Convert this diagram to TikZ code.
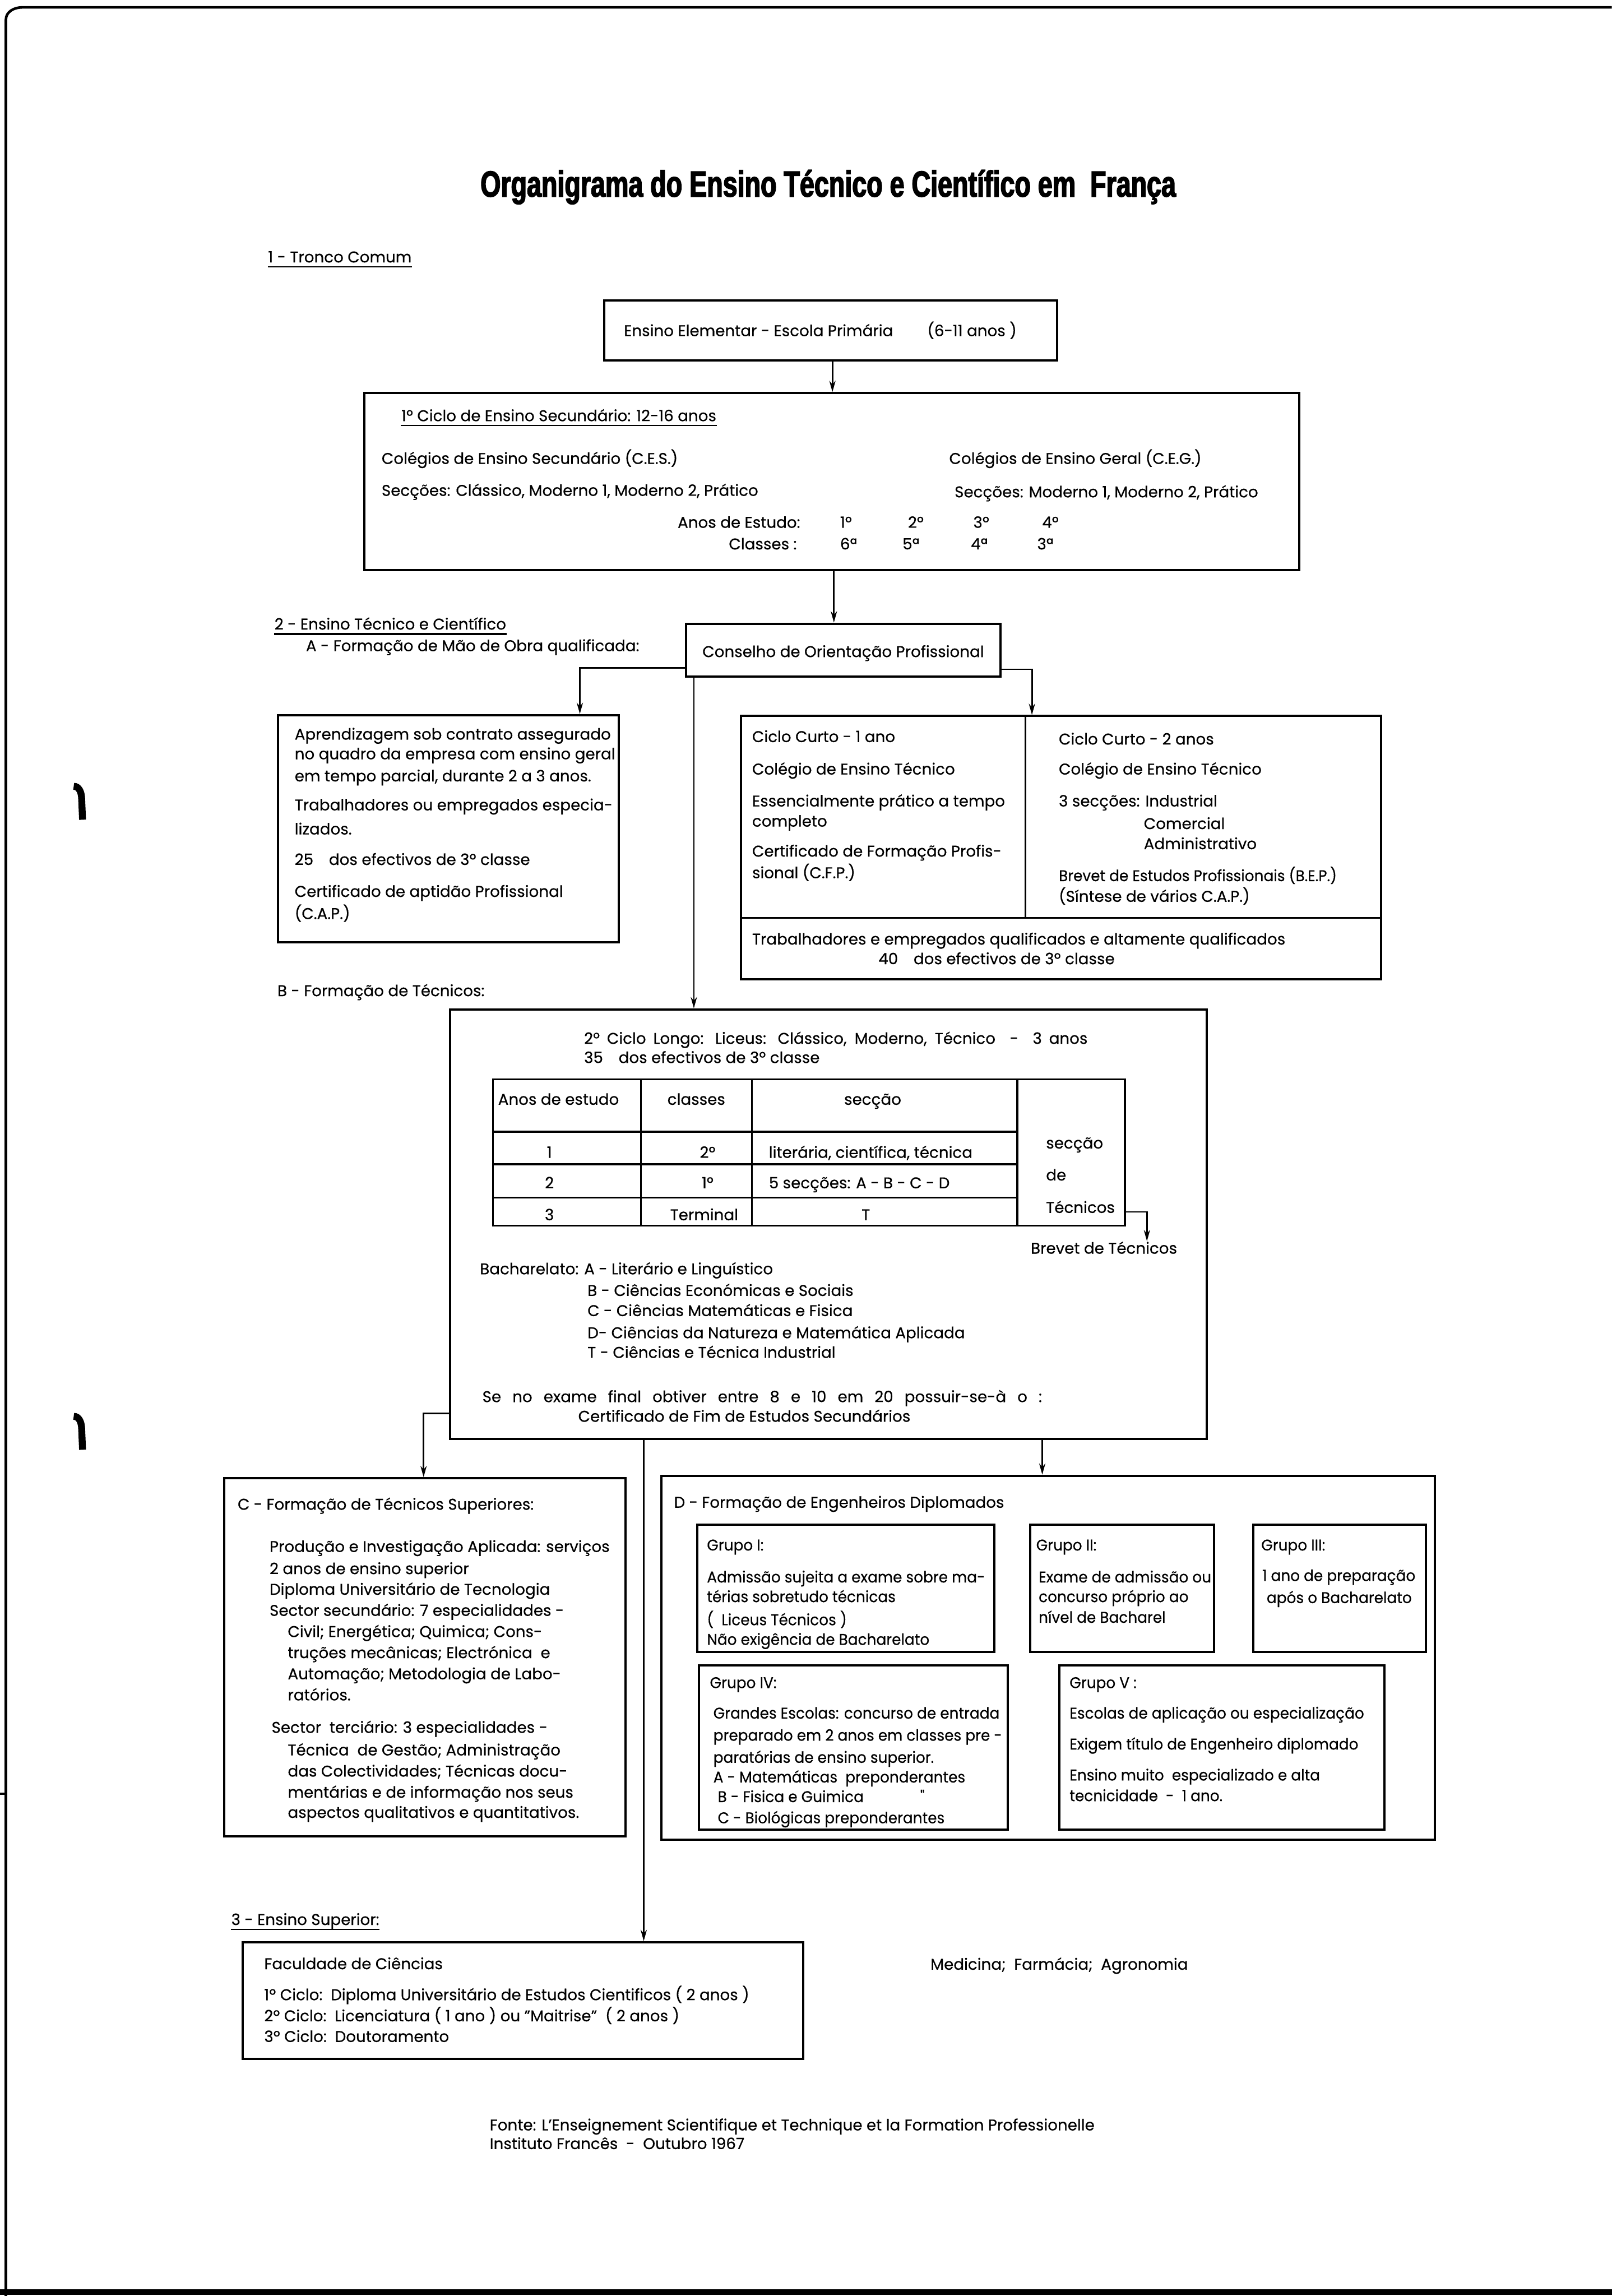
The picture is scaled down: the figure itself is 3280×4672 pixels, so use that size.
\documentclass[tikz,border=0pt]{standalone}
\usepackage{fontspec}
\setmainfont[FakeBold=0.5]{Poppins}
\newfontfamily\narrowfont[FakeStretch=0.95,FakeBold=0.5]{Poppins}
\newfontfamily\titlefont[FakeStretch=0.72,FakeBold=2.5]{Liberation Sans}
\usetikzlibrary{arrows.meta,fit}
\newcommand\mytext[5][]{\node[tx,#1] (#2) at (#3,#4) {#5};}
\begin{document}
\begin{tikzpicture}[x=0.01cm,y=-0.01cm,
  tx/.style={anchor=base west,inner sep=0pt,font=\fontsize{9}{11}\selectfont},
  txc/.style={tx,anchor=base},
  txe/.style={tx,anchor=base east},
  nar/.style={font=\narrowfont\fontsize{9}{11}\selectfont},
  box/.style={draw,line width=1.3pt,inner sep=0pt},
  tline/.style={line width=1.1pt},
  con/.style={line width=0.9pt},
  arr/.style={con,-{Stealth[length=6.5pt,width=3.6pt]}},
  uline/.style={line width=0.6pt}]
\useasboundingbox (0,0) rectangle (3280,4672);
% page edges (scan)
\draw[line width=1.5pt] (12,4672) -- (12,40) to[out=90,in=180] (45,15) -- (3280,15);
\draw[line width=3pt] (0,4664) -- (3280,4664);
\draw[line width=1.5pt] (0,3650) -- (14,3650);
\draw[line width=4pt] (168,1668) -- (166,1622) to[out=95,in=0] (150,1600);
\draw[line width=4pt] (168,2950) -- (166,2904) to[out=95,in=0] (150,2882);
% title
\node[anchor=base west,inner sep=0pt,font={\titlefont\bfseries\fontsize{21}{24}\selectfont}] (title) at (977,400) {Organigrama do Ensino Técnico e Científico em\ \ França};
% section 1
\mytext{s1}{545}{534}{1 - Tronco Comum}
\draw[uline] ([yshift=-2.5pt]s1.base west) -- ([yshift=-2.5pt]s1.base east);
\node[box,fit={(1230,611) (2151,733)}] (elem) {};
\mytext{telem}{1269}{684}{Ensino Elementar - Escola Primária\hspace{2.2em}(6-11 anos )}
\node[box,fit={(741,800) (2644,1160)}] (c1) {};
\coordinate (a1) at (1694,0);
\draw[arr] (a1 |- elem.south) -- (a1 |- c1.north);
\mytext{tc1a}{816}{857}{1º Ciclo de Ensino Secundário: 12-16 anos}
\draw[uline] ([yshift=-2.5pt]tc1a.base west) -- ([yshift=-2.5pt]tc1a.base east);
\mytext{tc1b}{776}{944}{Colégios de Ensino Secundário (C.E.S.)}
\mytext{tc1c}{1931}{944}{Colégios de Ensino Geral (C.E.G.)}
\mytext{tc1d}{776}{1009}{Secções: Clássico, Moderno 1, Moderno 2, Prático}
\mytext{tc1e}{1942}{1012}{Secções: Moderno 1, Moderno 2, Prático}
\node[txe] (tc1f) at (1629,1074) {Anos de Estudo:};
\mytext{y1}{1709}{1074}{1º}
\mytext{y2}{1847}{1074}{2º}
\mytext{y3}{1980}{1074}{3º}
\mytext{y4}{2120}{1074}{4º}
\node[txe] (tc1g) at (1622,1118) {Classes :};
\mytext{k1}{1709}{1118}{6ª}
\mytext{k2}{1836}{1118}{5ª}
\mytext{k3}{1975}{1118}{4ª}
\mytext{k4}{2110}{1118}{3ª}
% section 2
\mytext{s2}{558}{1281}{2 - Ensino Técnico e Científico}
\draw[line width=1.2pt] ([yshift=-2.5pt]s2.base west) -- ([yshift=-2.5pt]s2.base east);
\mytext{s2a}{622}{1325}{A - Formação de Mão de Obra qualificada:}
\node[box,fit={(1396,1269) (2036,1377)}] (cop) {};
\node[txc] (tcop) at (1716,1337) {Conselho de Orientação Profissional};
\coordinate (a2) at (1697,0);
\draw[arr] (a2 |- c1.south) -- (a2 |- cop.north);
% A boxes
\node[box,fit={(566,1455) (1259,1917)}] (apr) {};
\node[box,fit={(1508,1457) (2811,1993)}] (cc) {};
\draw[tline] (2087,1457) -- (2087,1868);
\draw[tline] (1508,1868) -- (2811,1868);
\coordinate (l1) at (1180,1359);
\draw[arr] (cop.west |- l1) -- (l1) -- (l1 |- apr.north);
\coordinate (r1) at (2100,1362);
\draw[arr] (cop.east |- r1) -- (r1) -- (r1 |- cc.north);
\mytext{ap1}{599}{1505}{Aprendizagem sob contrato assegurado}
\mytext{ap2}{599}{1545}{no quadro da empresa com ensino geral}
\mytext{ap3}{599}{1590}{em tempo parcial, durante 2 a 3 anos.}
\mytext{ap4}{599}{1649}{Trabalhadores ou empregados especia-}
\mytext{ap5}{599}{1698}{lizados.}
\mytext{ap6}{599}{1760}{25\hspace{1em}dos efectivos de 3º classe}
\mytext{ap7}{599}{1825}{Certificado de aptidão Profissional}
\mytext{ap8}{599}{1870}{(C.A.P.)}
\mytext{cl1}{1530}{1510}{Ciclo Curto - 1 ano}
\mytext{cl2}{1530}{1576}{Colégio de Ensino Técnico}
\mytext{cl3}{1530}{1641}{Essencialmente prático a tempo}
\mytext{cl4}{1530}{1682}{completo}
\mytext{cl5}{1530}{1743}{Certificado de Formação Profis-}
\mytext{cl6}{1530}{1787}{sional (C.F.P.)}
\mytext{cr1}{2154}{1515}{Ciclo Curto - 2 anos}
\mytext{cr2}{2154}{1576}{Colégio de Ensino Técnico}
\mytext{cr3}{2154}{1641}{3 secções: Industrial}
\mytext{cr4}{2327}{1687}{Comercial}
\mytext{cr5}{2327}{1728}{Administrativo}
\mytext[nar]{cr6}{2154}{1793}{Brevet de Estudos Profissionais (B.E.P.)}
\mytext{cr7}{2154}{1835}{(Síntese de vários C.A.P.)}
\mytext{cb1}{1530}{1922}{Trabalhadores e empregados qualificados e altamente qualificados}
\mytext{cb2}{1787}{1962}{40\hspace{1em}dos efectivos de 3º classe}
% B
\mytext{sb}{564}{2027}{B - Formação de Técnicos:}
\node[box,fit={(916,2054) (2456,2928)}] (lon) {};
\coordinate (m1) at (1412,0);
\draw[arr] (m1 |- cop.south) -- (m1 |- lon.north);
\mytext{lo1}{1188}{2124}{\makebox[10.24cm][s]{2º Ciclo Longo: Liceus: Clássico, Moderno, Técnico\ \ -\ \ 3 anos}}
\mytext{lo2}{1188}{2163}{35\hspace{1em}dos efectivos de 3º classe}
\node[draw,tline,inner sep=0pt,fit={(1003,2196) (2289,2494)}] (tab) {};
\draw[tline] (1304,2196) -- (1304,2494);
\draw[tline] (1530,2196) -- (1530,2494);
\draw[tline] (2070,2196) -- (2070,2494);
\draw[tline] (1003,2303) -- (2070,2303);
\draw[tline] (1003,2369) -- (2070,2369);
\draw[tline] (1003,2437) -- (2070,2437);
\mytext{th1}{1013}{2248}{Anos de estudo}
\node[txc] (th2) at (1417,2248) {classes};
\node[txc] (th3) at (1776,2248) {secção};
\node[txc] (r11) at (1118,2356) {1};
\node[txc] (r12) at (1440,2356) {2º};
\mytext{r13}{1564}{2356}{literária, científica, técnica}
\node[txc] (r21) at (1118,2418) {2};
\node[txc] (r22) at (1440,2418) {1º};
\mytext{r23}{1564}{2418}{5 secções: A - B - C - D}
\node[txc] (r31) at (1118,2483) {3};
\node[txc] (r32) at (1433,2483) {Terminal};
\node[txc] (r33) at (1762,2483) {T};
\mytext{st1}{2128}{2337}{secção}
\mytext{st2}{2128}{2402}{de}
\mytext{st3}{2128}{2468}{Técnicos}
\mytext{brev}{2097}{2551}{Brevet de Técnicos}
\coordinate (a5) at (2334,2466);
\draw[arr] (tab.east |- a5) -- (a5) -- (a5 |- brev.north);
\mytext{ba1}{976}{2593}{Bacharelato: A - Literário e Linguístico}
\mytext{ba2}{1195}{2637}{B - Ciências Económicas e Sociais}
\mytext{ba3}{1195}{2678}{C - Ciências Matemáticas e Fisica}
\mytext{ba4}{1195}{2723}{D- Ciências da Natureza e Matemática Aplicada}
\mytext{ba5}{1195}{2763}{T - Ciências e Técnica Industrial}
\mytext{se1}{981}{2853}{\makebox[11.38cm][s]{Se no exame final obtiver entre 8 e 10 em 20 possuir-se-à o :}}
\mytext{se2}{1176}{2893}{Certificado de Fim de Estudos Secundários}
% C and D
\node[box,fit={(456,3008) (1273,3737)}] (cbox) {};
\node[box,fit={(1346,3003) (2920,3743)}] (dbox) {};
\coordinate (c0) at (862,2876);
\draw[arr] (lon.west |- c0) -- (c0) -- (c0 |- cbox.north);
\coordinate (d0) at (2121,0);
\draw[arr] (d0 |- lon.south) -- (d0 |- dbox.north);
\mytext{ct0}{483}{3072}{C - Formação de Técnicos Superiores:}
\mytext{ct1}{548}{3158}{Produção e Investigação Aplicada: serviços}
\mytext{ct2}{548}{3203}{2 anos de ensino superior}
\mytext{ct3}{548}{3245}{Diploma Universitário de Tecnologia}
\mytext{ct4}{548}{3288}{Sector secundário: 7 especialidades -}
\mytext{ct5}{585}{3331}{Civil; Energética; Quimica; Cons-}
\mytext{ct6}{585}{3374}{truções mecânicas; Electrónica\ \ e}
\mytext{ct7}{585}{3417}{Automação; Metodologia de Labo-}
\mytext{ct8}{585}{3460}{ratórios.}
\mytext{ct9}{552}{3526}{Sector\ \ terciário: 3 especialidades -}
\mytext{ct10}{585}{3572}{Técnica\ \ de Gestão; Administração}
\mytext{ct11}{585}{3615}{das Colectividades; Técnicas docu-}
\mytext{ct12}{585}{3658}{mentárias e de informação nos seus}
\mytext{ct13}{585}{3699}{aspectos qualitativos e quantitativos.}
\mytext{dt0}{1371}{3068}{D - Formação de Engenheiros Diplomados}
\node[box,fit={(1419,3103) (2024,3361)}] (g1) {};
\node[box,fit={(2097,3103) (2471,3361)}] (g2) {};
\node[box,fit={(2550,3103) (2902,3361)}] (g3) {};
\node[box,fit={(1422,3389) (2051,3723)}] (g4) {};
\node[box,fit={(2156,3389) (2817,3723)}] (g5) {};
\mytext[nar]{g1a}{1438}{3155}{Grupo I:}
\mytext[nar]{g1b}{1438}{3220}{Admissão sujeita a exame sobre ma-}
\mytext[nar]{g1c}{1438}{3260}{térias sobretudo técnicas}
\mytext[nar]{g1d}{1438}{3307}{(\ \ Liceus Técnicos )}
\mytext[nar]{g1e}{1438}{3347}{Não exigência de Bacharelato}
\mytext[nar]{g2a}{2108}{3155}{Grupo II:}
\mytext[nar]{g2b}{2113}{3220}{Exame de admissão ou}
\mytext[nar]{g2c}{2113}{3260}{concurso próprio ao}
\mytext[nar]{g2d}{2113}{3302}{nível de Bacharel}
\mytext[nar]{g3a}{2566}{3155}{Grupo III:}
\mytext[nar]{g3b}{2568}{3217}{1 ano de preparação}
\mytext[nar]{g3c}{2577}{3262}{após o Bacharelato}
\mytext[nar]{g4a}{1444}{3435}{Grupo IV:}
\mytext[nar]{g4b}{1451}{3497}{Grandes Escolas: concurso de entrada}
\mytext[nar]{g4c}{1451}{3542}{preparado em 2 anos em classes pre -}
\mytext[nar]{g4d}{1451}{3587}{paratórias de ensino superior.}
\mytext[nar]{g4e}{1451}{3627}{A - Matemáticas\ \ preponderantes}
\mytext[nar]{g4f}{1460}{3667}{B - Fisica e Guimica}
\mytext[nar]{g4g}{1872}{3667}{"}
\mytext[nar]{g4h}{1460}{3710}{C - Biológicas preponderantes}
\mytext[nar]{g5a}{2176}{3435}{Grupo V :}
\mytext[nar]{g5b}{2176}{3497}{Escolas de aplicação ou especialização}
\mytext[nar]{g5c}{2176}{3560}{Exigem título de Engenheiro diplomado}
\mytext[nar]{g5d}{2176}{3623}{Ensino muito\ \ especializado e alta}
\mytext[nar]{g5e}{2176}{3665}{tecnicidade\ \ -\ \ 1 ano.}
% section 3
\mytext{s3}{470}{3917}{3 - Ensino Superior:}
\draw[uline] ([yshift=-2.5pt]s3.base west) -- ([yshift=-2.5pt]s3.base east);
\node[box,fit={(494,3952) (1635,4189)}] (fac) {};
\coordinate (f0) at (1310,0);
\draw[arr] (f0 |- lon.south) -- (f0 |- fac.north);
\mytext{fa1}{537}{4007}{Faculdade de Ciências}
\mytext{fa2}{537}{4070}{1º Ciclo:\ \ Diploma Universitário de Estudos Cientificos ( 2 anos )}
\mytext{fa3}{537}{4113}{2º Ciclo:\ \ Licenciatura ( 1 ano ) ou "Maitrise"\ \ ( 2 anos )}
\mytext{fa4}{537}{4155}{3º Ciclo:\ \ Doutoramento}
\mytext{med}{1893}{4008}{Medicina;\ \ Farmácia;\ \ Agronomia}
\mytext{fo1}{996}{4335}{Fonte: L'Enseignement Scientifique et Technique et la Formation Professionelle}
\mytext{fo2}{996}{4373}{Instituto Francês\ \ -\ \ Outubro 1967}
\end{tikzpicture}
\end{document}
